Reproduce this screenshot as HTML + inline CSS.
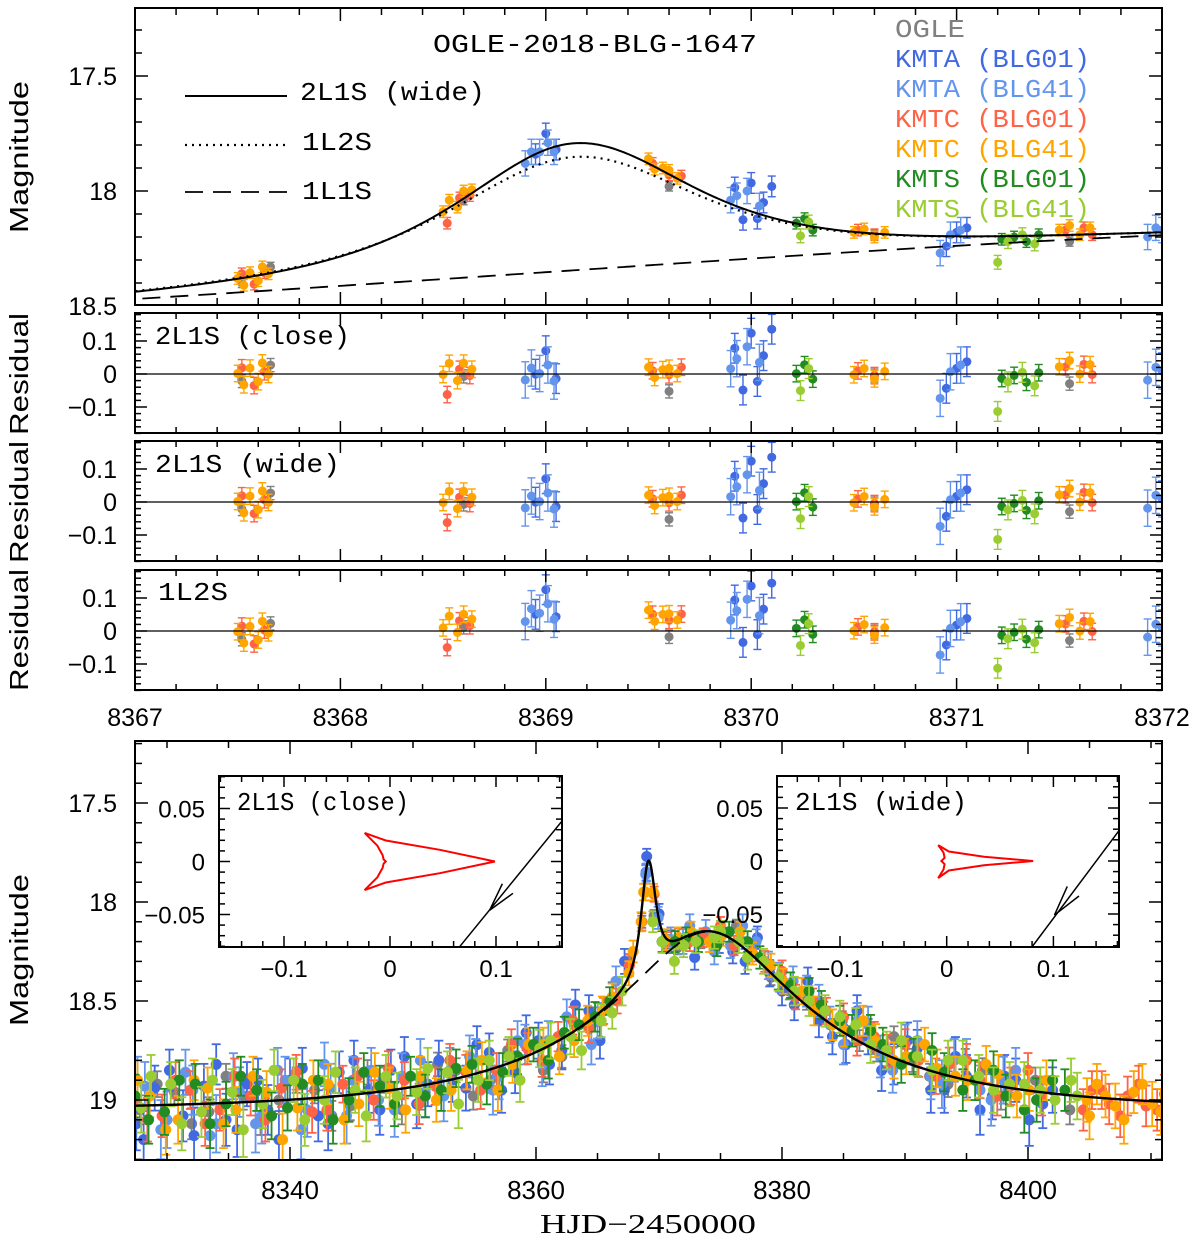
<!DOCTYPE html>
<html><head><meta charset="utf-8"><title>OGLE-2018-BLG-1647</title>
<style>
html,body{margin:0;padding:0;background:#fff;}
svg{display:block;}
.tk{font-family:"Liberation Sans",sans-serif;fill:#000;}
.mono{font-family:"Liberation Mono","DejaVu Sans Mono",monospace;}
</style></head>
<body>
<svg id="chart" width="1200" height="1242" viewBox="0 0 1200 1242" xmlns="http://www.w3.org/2000/svg">
<defs>
<clipPath id="cTop"><rect x="135" y="8" width="1027" height="297"/></clipPath>
<clipPath id="cR1"><rect x="135" y="313" width="1027" height="120"/></clipPath>
<clipPath id="cR2"><rect x="135" y="441" width="1027" height="120"/></clipPath>
<clipPath id="cR3"><rect x="135" y="570" width="1027" height="120"/></clipPath>
<clipPath id="cBot"><rect x="135" y="741" width="1027" height="419"/></clipPath>
<clipPath id="cIn1"><rect x="219" y="776" width="343" height="171"/></clipPath>
<clipPath id="cIn2"><rect x="777" y="776" width="342" height="171"/></clipPath>
</defs>
</svg>
<script>
// ---------- data ----------
const seriesNames = ["OGLE","KMTA (BLG01)","KMTA (BLG41)","KMTC (BLG01)","KMTC (BLG41)","KMTS (BLG01)","KMTS (BLG41)"];
const seriesColors = ["#808080","#4169E1","#6495ED","#FF6347","#FFA500","#228B22","#9ACD32"];
const seriesKeys = ["ogle","kmta01","kmta41","kmtc01","kmtc41","kmts01","kmts41"];

// top (zoomed) panel data: times and magnitudes
const topT_ogle = [8367.52,8367.66,8368.6,8369.6,8370.6,8371.55];
const topM_ogle = [18.40,18.33,18.04,17.98,18.19,18.22];
const topT_kmta01 = [8368.95,8369.0,8369.05,8369.92,8369.96,8370.0,8370.03,8370.06,8370.1,8370.95,8371.0,8371.05];
const topM_kmta01 = [17.84,17.75,17.82,17.985,18.125,17.965,18.12,18.05,17.98,18.24,18.18,18.16];
const topT_kmta41 = [8368.9,8368.93,8368.97,8369.01,8369.04,8369.9,8369.93,8369.98,8370.04,8370.92,8370.97,8371.02,8371.93,8371.97,8372.0];
const topM_kmta41 = [17.88,17.83,17.83,17.79,17.83,18.04,18.02,18.00,18.065,18.27,18.19,18.17,18.20,18.16,18.17];
const topT_kmtc01 = [8367.52,8367.58,8367.63,8368.52,8368.58,8368.63,8369.52,8369.6,8369.66,8370.52,8370.6,8371.53,8371.62,8371.66];
const topM_kmtc01 = [18.36,18.405,18.355,18.14,18.03,18.02,17.88,17.93,17.935,18.17,18.19,18.17,18.16,18.19];
const topT_kmtc41 = [8367.5,8367.53,8367.56,8367.6,8367.62,8367.65,8368.5,8368.53,8368.57,8368.6,8368.64,8369.5,8369.53,8369.57,8369.6,8369.64,8370.5,8370.55,8370.6,8370.65,8371.5,8371.55,8371.6,8371.65];
const topM_kmtc41 = [18.38,18.41,18.355,18.39,18.33,18.36,18.09,18.04,18.07,18.00,17.995,17.86,17.905,17.90,17.91,17.945,18.18,18.165,18.20,18.18,18.17,18.15,18.19,18.16];
const topT_kmts01 = [8370.22,8370.26,8370.3,8371.22,8371.28,8371.34,8371.4];
const topM_kmts01 = [18.14,18.12,18.17,18.21,18.20,18.22,18.19];
const topT_kmts41 = [8370.24,8370.28,8371.2,8371.25,8371.32,8371.38];
const topM_kmts41 = [18.195,18.135,18.31,18.22,18.19,18.23];
const topErr = [0.02,0.045,0.055,0.025,0.025,0.025,0.03];

// bottom (full) panel data
const botT_ogle = [8327.8,8330.6,8333.4,8336.2,8339.1,8342.0,8344.9,8347.7,8350.6,8353.5,8356.3,8359.2,8362.1,8364.8,8367.6,8368.6,8369.6,8370.6,8371.5,8373.4,8376.3,8379.1,8382.0,8384.9,8387.7,8390.6,8393.5,8396.3];
const botM_ogle = [19.05,18.96,19.06,18.98,19.00,18.95,19.03,18.90,18.98,18.85,18.90,18.72,18.78,18.58,18.30,18.10,18.07,18.20,18.23,18.20,18.12,18.38,18.50,18.60,18.75,18.80,18.92,18.85];
const botT2_ogle = [8329.2,8332.0,8334.8,8337.6,8340.5,8343.4,8346.3,8349.1,8352.0,8354.9,8357.7,8360.6,8377.7,8380.6,8383.4,8386.3,8389.1,8392.0,8394.9,8397.8,8400.6,8403.4];
const botM2_ogle = [18.92,19.12,18.88,19.10,18.90,19.08,18.86,19.05,18.82,18.98,18.75,18.85,18.22,18.45,18.55,18.70,18.68,18.88,18.80,18.98,18.90,19.05];
const botT_kmta01 = [8327.5,8329.0,8331.3,8333.0,8334.8,8336.5,8338.2,8340.0,8342.3,8344.0,8346.4,8348.2,8350.3,8352.1,8354.3,8356.2,8358.3,8360.2,8362.1,8364.3,8366.2,8368.95,8369.0,8370.0,8371.0,8372.9,8374.9,8377.0,8379.0,8381.0,8383.0,8385.2,8387.0,8389.1,8391.0,8393.2,8395.0,8397.1,8399.0,8401.2];
const botM_kmta01 = [19.12,18.94,19.08,18.93,19.10,18.92,19.05,18.90,19.08,18.86,18.95,18.85,19.02,18.80,18.94,18.76,18.86,18.70,18.75,18.55,18.48,17.85,17.77,18.06,18.20,18.28,18.20,18.30,18.36,18.52,18.60,18.72,18.68,18.82,18.74,18.95,18.88,18.98,18.90,19.02];
const botT2_kmta01 = [8328.1,8330.2,8332.2,8334.0,8335.7,8337.4,8339.1,8341.0,8343.1,8345.2,8347.3,8349.3,8351.2,8353.2,8355.2,8357.2,8359.2,8361.1,8363.2,8365.2,8367.2,8376.0,8378.0,8380.0,8382.1,8384.1,8386.1,8388.1,8390.2,8392.1,8394.1,8396.1,8398.1,8400.1,8402.0];
const botM2_kmta01 = [19.20,18.85,19.18,18.82,19.15,18.90,19.20,18.84,19.12,18.80,19.05,18.78,18.92,18.90,18.72,18.95,18.66,18.82,18.52,18.70,18.30,18.25,18.18,18.45,18.40,18.68,18.55,18.85,18.70,18.95,18.78,19.05,18.88,19.10,18.95];
const botT_kmta41 = [8328.2,8330.0,8332.1,8334.0,8335.9,8337.7,8339.6,8341.4,8343.3,8345.1,8347.2,8349.1,8351.0,8353.0,8355.1,8357.0,8359.1,8361.0,8363.1,8365.0,8368.92,8369.02,8369.93,8370.97,8371.95,8373.8,8375.8,8377.9,8379.8,8382.0,8383.9,8386.1,8388.0,8390.0,8392.1,8394.0,8396.1,8398.0];
const botM_kmta41 = [18.93,19.10,18.95,19.12,18.96,19.08,18.90,19.05,18.94,18.90,19.00,18.88,18.96,18.85,18.80,18.88,18.72,18.70,18.62,18.60,17.86,17.85,18.08,18.19,18.20,18.15,18.22,18.20,18.38,18.45,18.62,18.60,18.78,18.72,18.88,18.80,18.95,18.90];
const botT2_kmta41 = [8327.6,8329.5,8331.5,8333.5,8335.4,8337.2,8339.0,8340.9,8342.8,8344.6,8346.6,8348.5,8350.6,8352.5,8354.6,8356.5,8358.5,8360.5,8362.5,8364.5,8366.5,8372.5,8374.5,8376.8,8378.9,8380.9,8383.0,8385.0,8387.0,8389.0,8391.0,8393.0,8395.0,8397.0,8399.0];
const botM2_kmta41 = [18.90,19.15,18.86,19.18,18.88,19.12,18.85,19.15,18.82,19.08,18.85,19.05,18.80,18.98,18.78,18.95,18.70,18.82,18.58,18.72,18.40,18.12,18.25,18.12,18.32,18.40,18.50,18.72,18.62,18.85,18.70,18.92,18.80,19.00,18.85];
const botT_kmtc01 = [8327.3,8329.6,8331.9,8334.3,8336.8,8339.3,8341.8,8344.3,8346.8,8349.3,8351.8,8354.3,8356.8,8359.3,8361.8,8364.3,8366.6,8367.6,8368.6,8369.6,8370.6,8371.6,8373.6,8376.1,8378.6,8381.1,8383.6,8386.1,8388.6,8391.1,8393.6,8396.1,8398.6,8401.1,8405.2,8406.6,8408.1,8409.6,8411.1,8412.6];
const botM_kmtc01 = [19.00,19.08,18.95,19.05,18.98,18.94,19.06,18.92,19.00,18.90,18.93,18.86,18.85,18.74,18.68,18.64,18.50,18.32,18.10,17.96,18.20,18.18,18.18,18.22,18.30,18.48,18.55,18.70,18.75,18.80,18.82,18.90,18.93,18.98,18.95,19.02,18.98,19.03,18.97,19.00];
const botT2_kmtc01 = [8328.4,8330.7,8333.1,8335.5,8338.0,8340.5,8343.0,8345.5,8348.0,8350.5,8353.0,8355.5,8358.0,8360.5,8363.0,8365.5,8372.5,8375.0,8377.5,8380.0,8382.5,8385.0,8387.5,8390.0,8392.5,8395.0,8397.5,8400.0,8404.5,8406.0,8407.5,8409.0,8410.5,8412.0];
const botM2_kmtc01 = [19.10,18.90,19.12,18.88,19.10,18.86,19.05,18.88,18.84,19.02,18.80,18.95,18.72,18.80,18.60,18.55,18.20,18.12,18.25,18.35,18.50,18.58,18.68,18.72,18.88,18.80,18.98,18.85,19.05,18.95,19.08,18.92,19.05,18.96];
const botT_kmtc41 = [8327.1,8328.6,8330.9,8333.3,8335.6,8338.1,8340.6,8343.1,8345.6,8348.1,8350.6,8353.1,8355.6,8358.1,8360.6,8363.1,8365.4,8367.55,8368.55,8368.9,8369.55,8370.55,8371.55,8372.6,8375.1,8377.6,8380.1,8382.6,8385.1,8387.6,8390.1,8392.6,8395.1,8397.6,8400.1,8404.8,8405.6,8407.1,8408.6,8410.1,8411.6,8413.0];
const botM_kmtc41 = [19.08,18.98,19.10,18.94,19.05,18.96,19.04,18.92,19.02,18.94,18.88,18.95,18.80,18.82,18.72,18.70,18.55,18.36,18.10,17.95,17.95,18.19,18.18,18.15,18.17,18.26,18.40,18.55,18.65,18.70,18.78,18.84,18.90,18.87,18.95,19.00,18.92,19.03,18.96,19.02,18.98,19.02];
const botT2_kmtc41 = [8327.6,8329.9,8332.2,8334.6,8337.0,8339.4,8341.9,8344.4,8346.9,8349.4,8351.9,8354.4,8356.9,8359.4,8361.9,8364.2,8366.2,8367.9,8368.75,8374.1,8376.6,8379.1,8381.6,8384.1,8386.6,8389.1,8391.6,8394.1,8396.6,8399.1,8401.5,8405.0,8406.3,8407.8,8409.3,8410.8,8412.3];
const botM2_kmtc41 = [18.90,19.15,18.90,19.12,18.88,19.20,18.90,19.10,18.86,19.05,19.00,18.85,18.95,18.72,18.78,18.60,18.48,18.25,17.95,18.20,18.15,18.32,18.45,18.62,18.60,18.80,18.72,18.88,18.82,18.98,18.90,19.08,18.98,19.10,18.92,19.06,18.95];
const botT_kmts01 = [8327.4,8329.8,8332.3,8334.8,8337.3,8339.8,8342.3,8344.8,8347.3,8349.8,8352.3,8354.8,8357.3,8359.8,8362.3,8364.8,8370.25,8371.3,8373.2,8375.7,8378.2,8380.7,8383.2,8385.7,8388.2,8390.7,8393.2,8395.7,8398.2,8400.7,8403.0];
const botM_kmts01 = [18.98,19.06,18.92,19.02,18.95,19.04,18.90,19.00,18.93,18.88,18.95,18.82,18.86,18.72,18.66,18.58,18.20,18.20,18.20,18.15,18.28,18.42,18.52,18.65,18.72,18.78,18.86,18.90,18.98,19.00,18.95];
const botT2_kmts01 = [8328.5,8331.0,8333.5,8336.0,8338.5,8341.0,8343.5,8346.0,8348.5,8351.0,8353.5,8356.0,8358.5,8361.0,8363.5,8366.0,8372.2,8374.7,8377.2,8379.7,8382.2,8384.7,8387.2,8389.7,8392.2,8394.7,8397.2,8399.7,8402.0];
const botM2_kmts01 = [19.10,18.90,19.12,18.88,19.08,18.92,19.10,18.86,19.02,18.98,18.84,18.92,18.78,18.80,18.62,18.50,18.18,18.22,18.20,18.38,18.45,18.60,18.65,18.82,18.75,18.95,18.85,19.05,18.90];
const botT_kmts41 = [8327.9,8330.3,8332.8,8335.3,8337.8,8340.3,8342.8,8345.3,8347.8,8350.3,8352.8,8355.3,8357.8,8360.3,8362.8,8365.3,8367.0,8370.27,8371.25,8373.0,8374.5,8376.5,8378.5,8381.0,8383.5,8386.0,8388.5,8391.0,8393.5,8396.0,8398.5,8401.0,8403.5];
const botM_kmts41 = [19.04,18.92,19.06,18.96,19.02,18.90,19.00,18.95,18.88,18.96,18.86,18.90,18.78,18.74,18.68,18.60,18.45,18.20,18.30,18.20,18.18,18.20,18.30,18.45,18.55,18.62,18.75,18.78,18.80,18.88,18.92,18.95,18.90];
const botT2_kmts41 = [8328.7,8331.2,8333.7,8336.2,8338.7,8341.2,8343.7,8346.2,8348.7,8351.2,8353.7,8356.2,8358.7,8361.2,8363.7,8366.2,8369.5,8372.0,8375.0,8377.2,8379.7,8382.2,8384.7,8387.2,8389.7,8392.2,8394.7,8397.2,8399.7,8402.2,8404.0];
const botM2_kmts41 = [18.88,19.12,18.90,19.15,18.85,19.10,18.86,19.08,18.98,18.84,19.02,18.80,18.90,18.70,18.75,18.56,18.10,18.22,18.15,18.28,18.38,18.50,18.58,18.72,18.70,18.85,18.80,18.95,18.92,19.00,18.98];
const botErr = [0.07,0.12,0.13,0.10,0.11,0.11,0.12];

// model parameters
const modelT0 = 8374.0, modelU0 = 0.3, modelTE = 20.0, modelM0 = 19.05, modelFs = 0.528;
const bumpT0 = 8369.15;
const bumpWide = [1.27, 0.78, 0.81, 1.5];   // height, left width, right width, power
const bump1L2S = [1.1, 0.85, 0.85, 1.5];

// caustics and trajectories (inset source-plane coords)
const causticCloseX = [-0.024,-0.004,0.047,0.099,0.047,-0.004,-0.024,-0.012,-0.007,-0.006,-0.004,-0.006,-0.007,-0.012,-0.024];
const causticCloseY = [0.027,0.0198,0.011,0.0,-0.011,-0.0198,-0.027,-0.015,-0.006,-0.002,0.0,0.002,0.006,0.015,0.027];
const causticWideX = [-0.008,0.002,0.035,0.081,0.035,0.002,-0.008,-0.003,-0.002,-0.005,-0.002,-0.003,-0.008];
const causticWideY = [0.015,0.009,0.004,0.0,-0.004,-0.009,-0.016,-0.008,-0.003,0.0,0.003,0.008,0.015];
const trajClose = [[0.066,-0.08],[0.163,0.039]];
const trajCloseArrow = [[0.094,-0.046],[0.106,-0.021],[0.116,-0.030]];
const trajWide = [[0.080,-0.081],[0.161,0.028]];
const trajWideArrow = [[0.101,-0.051],[0.113,-0.024],[0.124,-0.033]];

const topData = {
 ogle:[topT_ogle,topM_ogle], kmta01:[topT_kmta01,topM_kmta01], kmta41:[topT_kmta41,topM_kmta41],
 kmtc01:[topT_kmtc01,topM_kmtc01], kmtc41:[topT_kmtc41,topM_kmtc41], kmts01:[topT_kmts01,topM_kmts01], kmts41:[topT_kmts41,topM_kmts41]};
const botData = {
 ogle:[botT_ogle.concat(botT2_ogle),botM_ogle.concat(botM2_ogle)],
 kmta01:[botT_kmta01.concat(botT2_kmta01),botM_kmta01.concat(botM2_kmta01)],
 kmta41:[botT_kmta41.concat(botT2_kmta41),botM_kmta41.concat(botM2_kmta41)],
 kmtc01:[botT_kmtc01.concat(botT2_kmtc01),botM_kmtc01.concat(botM2_kmtc01)],
 kmtc41:[botT_kmtc41.concat(botT2_kmtc41),botM_kmtc41.concat(botM2_kmtc41)],
 kmts01:[botT_kmts01.concat(botT2_kmts01),botM_kmts01.concat(botM2_kmts01)],
 kmts41:[botT_kmts41.concat(botT2_kmts41),botM_kmts41.concat(botM2_kmts41)]};

// ---------- models ----------
function ampl(u){return (u*u+2)/(u*Math.sqrt(u*u+4));}
function baseFlux(t){const tau=(t-modelT0)/modelTE;const u=Math.sqrt(modelU0*modelU0+tau*tau);return 1+modelFs*(ampl(u)-1);}
function bumpFlux(t,p){const dt=t-bumpT0;const w=dt<0?p[1]:p[2];return p[0]/Math.pow(1+(dt/w)*(dt/w),p[3]);}
function mag1L1S(t){return modelM0-2.5*Math.log10(baseFlux(t));}
function magWide(t){return modelM0-2.5*Math.log10(baseFlux(t)+bumpFlux(t,bumpWide));}
function mag1L2S(t){return modelM0-2.5*Math.log10(baseFlux(t)+bumpFlux(t,bump1L2S));}

// ---------- scales ----------
const tx=t=>135+(t-8367)*205.4;
const ty=m=>76+(m-17.5)*230;
const ry=(r,y0)=>y0-r*330;
const bx=t=>290+(t-8340)*12.3;
const by=m=>803+(m-17.5)*198;
const in1x=v=>390+v*1060, in1y=v=>861.5-v*1060;
const in2x=v=>946.7+v*1067, in2y=v=>861-v*1060;

const svg=document.getElementById('chart');
const NS='http://www.w3.org/2000/svg';
function mk(tag,attrs,parent){const e=document.createElementNS(NS,tag);for(const k in attrs)e.setAttribute(k,attrs[k]);(parent||svg).appendChild(e);return e;}
function grp(clip,parent){const g=mk('g',clip?{'clip-path':'url(#'+clip+')'}:{},parent);return g;}
function txt(x,y,s,attrs,parent){const e=mk('text',Object.assign({x:x,y:y},attrs),parent);e.textContent=s;return e;}

function ticks(x0,x1,y0,y1,fx,xa,xb,xmin,xmaj,fy,ya,yb,ymin,ymaj,L,l){
  const g=mk('g',{stroke:'#000','stroke-width':1.5});
  
  
  const n=Math.round((xb-xa)/xmin);
  for(let i=0;i<=n;i++){const v=xa+i*xmin;const p=fx(v);if(p<x0-0.5||p>x1+0.5)continue;
    const maj=Math.abs(v/xmaj-Math.round(v/xmaj))<1e-6;const len=maj?L:l;
    mk('line',{x1:p,y1:y1,x2:p,y2:y1-len},g);mk('line',{x1:p,y1:y0,x2:p,y2:y0+len},g);}
  const m=Math.round((yb-ya)/ymin);
  for(let i=0;i<=m;i++){const v=ya+i*ymin;const p=fy(v);if(p<y0-0.5||p>y1+0.5)continue;
    const maj=Math.abs(v/ymaj-Math.round(v/ymaj))<1e-6;const len=maj?L:l;
    mk('line',{x1:x0,y1:p,x2:x0+len,y2:p},g);mk('line',{x1:x1,y1:p,x2:x1-len,y2:p},g);}
}
function frame(x,y,w,h,name){const r=mk('rect',{x:x,y:y,width:w,height:h,fill:'none',stroke:'#000','stroke-width':2});
  
  }

function drawPoints(g,t,m,fx,fy,err,color,r,cap,sw){
  for(let i=0;i<t.length;i++){
    const x=fx(t[i]),y=fy(m[i]);const e=err(m[i]);
    const ya=fy(m[i]-e),yb=fy(m[i]+e);
    mk('line',{x1:x,y1:ya,x2:x,y2:yb,stroke:color,'stroke-width':sw},g);
    mk('line',{x1:x-cap,y1:ya,x2:x+cap,y2:ya,stroke:color,'stroke-width':sw},g);
    mk('line',{x1:x-cap,y1:yb,x2:x+cap,y2:yb,stroke:color,'stroke-width':sw},g);
    const c=mk('circle',{cx:x,cy:y,r:r,fill:color},g);
    
    
  }
}
function curve(g,f,fx,fy,ta,tb,step,attrs){
  let d='';for(let t=ta;t<=tb+1e-9;t+=step){d+=(d?'L':'M')+fx(t).toFixed(2)+','+fy(f(t)).toFixed(2);}
  return mk('path',Object.assign({d:d,fill:'none',stroke:'#000'},attrs),g);
}

// ---------- top panel ----------
const gTop=grp('cTop');


seriesKeys.forEach((k,i)=>{const d=topData[k];const sg=mk('g',{},gTop);
  
  
  drawPoints(sg,d[0],d[1],tx,ty,()=>topErr[i],seriesColors[i],4.5,4,1.4);});
const cw=curve(gTop,magWide,tx,ty,8366.9,8372.1,0.01,{'stroke-width':2});


const cd=curve(gTop,mag1L2S,tx,ty,8366.9,8372.1,0.01,{'stroke-width':2.2,'stroke-dasharray':'2,5'});


const cs=curve(gTop,mag1L1S,tx,ty,8366.9,8372.1,0.01,{'stroke-width':1.8,'stroke-dasharray':'18,10'});


frame(135,8,1027,297,'top-panel-frame');
ticks(135,1162,8,305,tx,8367,8372,0.2,1,ty,17.2,18.5,0.1,0.5,13,7);

// ---------- residual panels ----------
const resPanels=[['cR1',313,374,magWide,'residual-2l1s-close'],['cR2',441,502,magWide,'residual-2l1s-wide'],['cR3',570,631,mag1L2S,'residual-1l2s']];
resPanels.forEach(p=>{
  const g=grp(p[0]);
  
  
  const y0=p[2];const fy=r=>ry(r,y0);
  seriesKeys.forEach((k,i)=>{const d=topData[k];const res=d[1].map((m,j)=>p[3](d[0][j])-m);
    const sg=mk('g',{},g);
    
    
    drawPoints(sg,d[0],res,tx,fy,()=>topErr[i],seriesColors[i],4.5,4,1.4);});
  const zl=mk('line',{x1:135,y1:y0,x2:1162,y2:y0,stroke:'#000','stroke-width':1.3},g);
  
  
  frame(135,p[1],1027,120,p[4]+'-frame');
  ticks(135,1162,p[1],p[1]+120,tx,8367,8372,0.2,1,fy,-0.18,0.18,0.02,0.1,12,6);
});

// ---------- bottom panel ----------
const gBot=grp('cBot');


seriesKeys.forEach((k,i)=>{const d=botData[k];const sg=mk('g',{},gBot);
  
  
  drawPoints(sg,d[0],d[1],bx,by,m=>botErr[i]*Math.pow(10,0.4*(m-19)),seriesColors[i],5.5,4.5,1.8);});
const bw=curve(gBot,magWide,bx,by,8326,8416,0.02,{'stroke-width':2.4});


const bd=curve(gBot,mag1L1S,bx,by,8326,8416,0.05,{'stroke-width':1.8,'stroke-dasharray':'18,10'});


frame(135,741,1027,419,'bottom-panel-frame');
ticks(135,1162,741,1160,bx,8325,8415,5,20,by,17.2,19.3,0.1,0.5,13,7);

// ---------- insets ----------
function inset(x,y,w,h,clip,fx,fy,cx,cy,traj,arr,label,name){
  const bg=mk('rect',{x:x,y:y,width:w,height:h,fill:'#fff'});
  
  
  const g=grp(clip);
  
  
  let d='';cx.forEach((v,i)=>{d+=(i?'L':'M')+fx(v).toFixed(1)+','+fy(cy[i]).toFixed(1);});
  const c=mk('path',{d:d,fill:'none',stroke:'#ff0000','stroke-width':2},g);
  
  
  const tr=mk('line',{x1:fx(traj[0][0]),y1:fy(traj[0][1]),x2:fx(traj[1][0]),y2:fy(traj[1][1]),stroke:'#000','stroke-width':1.5},g);
  
  
  const ar=mk('path',{d:'M'+fx(arr[1][0])+','+fy(arr[1][1])+'L'+fx(arr[0][0])+','+fy(arr[0][1])+'L'+fx(arr[2][0])+','+fy(arr[2][1]),fill:'none',stroke:'#000','stroke-width':1.5},g);
  
  
  frame(x,y,w,h,name+'-frame');
  ticks(x,x+w,y,y+h,fx,-0.2,0.2,0.02,0.1,fy,-0.09,0.09,0.01,0.05,11,6);
  const lb=txt(x+18,y+34,label,{'font-size':26,class:'mono',textLength:172,lengthAdjust:'spacingAndGlyphs'});
  
  
  [[-0.1,'\u22120.1'],[0,'0'],[0.1,'0.1']].forEach(a=>{const t=txt(fx(a[0]),y+h+30,a[1],{'font-size':24,class:'tk','text-anchor':'middle'});
    
    });
  [[0.05,'0.05'],[0,'0'],[-0.05,'\u22120.05']].forEach(a=>{const t=txt(x-14,fy(a[0])+9,a[1],{'font-size':24,class:'tk','text-anchor':'end'});
    
    });
}
inset(219,776,343,171,'cIn1',in1x,in1y,causticCloseX,causticCloseY,trajClose,trajCloseArrow,'2L1S (close)','inset-2l1s-close');
inset(777,776,342,171,'cIn2',in2x,in2y,causticWideX,causticWideY,trajWide,trajWideArrow,'2L1S (wide)','inset-2l1s-wide');

// ---------- tick labels ----------
function lab(x,y,s,anchor,size,name){const t=txt(x,y,s,{'font-size':size,class:'tk','text-anchor':anchor});
  
  }
const topYTicks=[17.5,18,18.5];
const topYLabels=['17.5','18','18.5'];
topYTicks.forEach((v,i)=>lab(117,ty(v)+9,topYLabels[i],'end',25,'top-y-tick-label'));
const resTicks=[0.1,0,-0.1];
const resLabels=['0.1','0','\u22120.1'];
resPanels.forEach(p=>resTicks.forEach((v,i)=>lab(117,ry(v,p[2])+9,resLabels[i],'end',25,'residual-y-tick-label')));
const topXTicks=[8367,8368,8369,8370,8371,8372];
topXTicks.forEach(v=>lab(tx(v),726,String(v),'middle',25,'top-x-tick-label'));
const botYTicks=[17.5,18,18.5,19];
const botYLabels=['17.5','18','18.5','19'];
botYTicks.forEach((v,i)=>lab(117,by(v)+9,botYLabels[i],'end',25,'bottom-y-tick-label'));
const botXTicks=[8340,8360,8380,8400];
botXTicks.forEach(v=>lab(bx(v),1199,String(v),'middle',26,'bottom-x-tick-label'));

// ---------- axis titles ----------
function vtitle(cx,cy,s,len,name){const t=txt(0,0,s,{'font-size':26,class:'tk','text-anchor':'middle',transform:'translate('+cx+','+cy+') rotate(-90)',textLength:len,lengthAdjust:'spacingAndGlyphs'});
  
  }
vtitle(28,157,'Magnitude',152,'top-y-axis-title');
vtitle(28,374,'Residual',122,'residual-close-y-axis-title');
vtitle(28,502,'Residual',122,'residual-wide-y-axis-title');
vtitle(28,630,'Residual',122,'residual-1l2s-y-axis-title');
vtitle(28,950,'Magnitude',152,'bottom-y-axis-title');
const xt=txt(648,1233,'HJD\u22122450000',{'font-size':27,'font-family':'"Liberation Serif",serif','text-anchor':'middle',textLength:216,lengthAdjust:'spacingAndGlyphs'});



// ---------- panel labels & legend ----------
function mono(x,y,s,len,color,name){const t=txt(x,y,s,{'font-size':26,class:'mono',fill:color,textLength:len,lengthAdjust:'spacingAndGlyphs'});
  
  }
mono(433,52,'OGLE-2018-BLG-1647',324,'#000','event-title');
mono(155,344,'2L1S (close)',195,'#000','panel-label-close');
mono(155,472,'2L1S (wide)',185,'#000','panel-label-wide');
mono(158,600,'1L2S',70,'#000','panel-label-1l2s');
const lg=mk('g',{});


const l1=mk('line',{x1:185,y1:96,x2:287,y2:96,stroke:'#000','stroke-width':2},lg);


const l2=mk('line',{x1:185,y1:145,x2:287,y2:145,stroke:'#000','stroke-width':2.2,'stroke-dasharray':'2,5'},lg);


const l3=mk('line',{x1:185,y1:192,x2:290,y2:192,stroke:'#000','stroke-width':1.8,'stroke-dasharray':'18,10'},lg);


mono(300,100,'2L1S (wide)',185,'#000','legend-label-2l1s-wide');
mono(302,150,'1L2S',70,'#000','legend-label-1l2s');
mono(302,199,'1L1S',70,'#000','legend-label-1l1s');
seriesNames.forEach((s,i)=>{const len=(s==='OGLE')?70:195;
  mono(895,37+i*30,s,len,seriesColors[i],'legend-entry-'+seriesKeys[i]);});
</script>
</body></html>
